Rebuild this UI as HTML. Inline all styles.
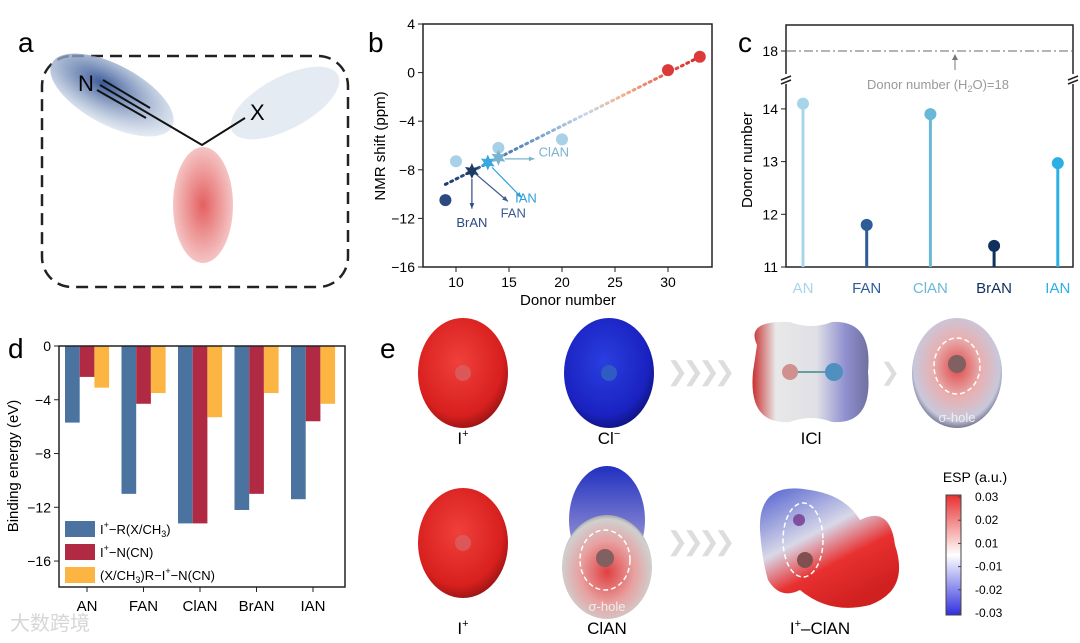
<!DOCTYPE html>
<html><head><meta charset="utf-8"><style>
body{margin:0;background:#fff;}
svg{display:block;font-family:"Liberation Sans",Arial,sans-serif;}
</style></head><body>
<svg id="fig" width="1080" height="643" viewBox="0 0 1080 643">
<defs>
<radialGradient id="gRed" cx="45%" cy="40%" r="65%"><stop offset="0" stop-color="#f0403c"/><stop offset="0.75" stop-color="#d8201e"/><stop offset="1" stop-color="#8a1212"/></radialGradient>
<radialGradient id="gBlue" cx="45%" cy="40%" r="65%"><stop offset="0" stop-color="#2a3ee0"/><stop offset="0.75" stop-color="#1a22c0"/><stop offset="1" stop-color="#0c1070"/></radialGradient>
<linearGradient id="gICl" x1="0" x2="1"><stop offset="0" stop-color="#c83030"/><stop offset="0.2" stop-color="#e8e8e8"/><stop offset="0.55" stop-color="#e0e0e6"/><stop offset="0.8" stop-color="#9090d0"/><stop offset="1" stop-color="#7070a0"/></linearGradient>
<radialGradient id="gSig" cx="50%" cy="45%" r="60%"><stop offset="0" stop-color="#e04848"/><stop offset="0.45" stop-color="#e8b0b0"/><stop offset="0.8" stop-color="#c8c8dc"/><stop offset="1" stop-color="#404060"/></radialGradient>
<linearGradient id="gCb" x1="0" y1="0" x2="0" y2="1"><stop offset="0" stop-color="#e83030"/><stop offset="0.5" stop-color="#ffffff"/><stop offset="1" stop-color="#3030e0"/></linearGradient>
<linearGradient id="gTop" x1="0" y1="0" x2="0" y2="1"><stop offset="0" stop-color="#2030c0"/><stop offset="0.6" stop-color="#8080d0"/><stop offset="1" stop-color="#e8e8e8"/></linearGradient>
<radialGradient id="gClan" cx="50%" cy="55%" r="60%"><stop offset="0" stop-color="#e04040"/><stop offset="0.5" stop-color="#e8a0a0"/><stop offset="0.85" stop-color="#d0d0d0"/><stop offset="1" stop-color="#707070"/></radialGradient>
<linearGradient id="gComp" x1="0" y1="0" x2="0.6" y2="1"><stop offset="0" stop-color="#5060d0"/><stop offset="0.45" stop-color="#d8d8e8"/><stop offset="0.7" stop-color="#e83030"/><stop offset="1" stop-color="#d02020"/></linearGradient>
<radialGradient id="gLobeB" cx="40%" cy="40%" r="70%"><stop offset="0" stop-color="#3a5a98"/><stop offset="1" stop-color="#e4ecf4" stop-opacity="0.6"/></radialGradient>
<radialGradient id="gLobeR" cx="50%" cy="50%" r="60%"><stop offset="0" stop-color="#e46060"/><stop offset="1" stop-color="#f8d8d8"/></radialGradient>
<linearGradient id="gFit" x1="0" x2="1"><stop offset="0" stop-color="#1d3c6e"/><stop offset="0.3" stop-color="#5a8cc0"/><stop offset="0.55" stop-color="#c8d8e8"/><stop offset="0.7" stop-color="#f4b090"/><stop offset="1" stop-color="#d62020"/></linearGradient>
</defs>

<!-- panel a -->
<g>
<text x="18" y="52" font-size="28">a</text>
<rect x="42" y="56" width="306" height="231" rx="30" fill="none" stroke="#222" stroke-width="2.5" stroke-dasharray="12,7"/>
<ellipse cx="112" cy="95" rx="68" ry="30" transform="rotate(28 112 95)" fill="url(#gLobeB)"/>
<ellipse cx="285" cy="103" rx="60" ry="26" transform="rotate(-28 285 103)" fill="#e4ebf3"/>
<ellipse cx="203" cy="205" rx="30" ry="58" fill="url(#gLobeR)"/>
<polyline points="100,85 202,145 245,118" fill="none" stroke="#111" stroke-width="2"/>
<line x1="103" y1="80" x2="150" y2="108" stroke="#111" stroke-width="2"/>
<line x1="97" y1="90" x2="146" y2="118" stroke="#111" stroke-width="2"/>
<text x="78" y="91" font-size="22">N</text>
<text x="250" y="120" font-size="22">X</text>
</g>

<!-- panel b -->
<g id="pb">
<text x="368" y="52" font-size="28">b</text>
<rect x="423" y="24" width="289" height="243" fill="none" stroke="#222" stroke-width="1.5"/>
<text transform="translate(385 146) rotate(-90)" text-anchor="middle" font-size="15">NMR shift (ppm)</text>
<text x="568" y="305" text-anchor="middle" font-size="15">Donor number</text>
</g>

<!-- panel c -->
<g id="pc">
<text x="738" y="52" font-size="28">c</text>
<rect x="786" y="25" width="287" height="242" fill="none" stroke="#222" stroke-width="1.5"/>
<rect x="780" y="74" width="12" height="10" fill="#fff"/><rect x="1067" y="74" width="12" height="10" fill="#fff"/>
<line x1="781" y1="80" x2="791" y2="76" stroke="#222" stroke-width="1.5"/><line x1="781" y1="84" x2="791" y2="80" stroke="#222" stroke-width="1.5"/>
<line x1="1068" y1="80" x2="1078" y2="76" stroke="#222" stroke-width="1.5"/><line x1="1068" y1="84" x2="1078" y2="80" stroke="#222" stroke-width="1.5"/>
<text transform="translate(752 160) rotate(-90)" text-anchor="middle" font-size="15">Donor number</text>
<line x1="955" y1="70" x2="955" y2="56" stroke="#777" stroke-width="1"/><path d="M952,60 L955,54 L958,60Z" fill="#777"/>
<text x="938" y="89" text-anchor="middle" font-size="13" fill="#999">Donor number (H<tspan font-size="9" dy="3">2</tspan><tspan dy="-3">O)=18</tspan></text>
</g>

<!-- panel d -->
<g id="pd">
<text x="8" y="358" font-size="28">d</text>
<text transform="translate(18 466) rotate(-90)" text-anchor="middle" font-size="15">Binding energy (eV)</text>
</g>

<!-- panel e -->
<g>
<text x="380" y="358" font-size="28">e</text>
<ellipse cx="463" cy="373" rx="45" ry="55" fill="url(#gRed)"/>
<circle cx="463" cy="373" r="8" fill="#d86060" opacity="0.8"/>
<ellipse cx="609" cy="373" rx="45" ry="55" fill="url(#gBlue)"/>
<circle cx="609" cy="373" r="8" fill="#3060c0" opacity="0.9"/>
<text x="698" y="380" text-anchor="middle" font-size="26" fill="#ddd" letter-spacing="-6">❯❯❯❯</text>
<path d="M757,345 Q745,320 790,322 Q811,330 832,322 Q873,320 868,372 Q873,425 832,422 Q811,414 790,422 Q748,425 753,372Z" fill="url(#gICl)"/>
<line x1="792" y1="372" x2="833" y2="372" stroke="#60a0a0" stroke-width="2"/>
<circle cx="790" cy="372" r="8" fill="#d09090"/><circle cx="834" cy="372" r="9" fill="#5090c0"/>
<text x="890" y="380" text-anchor="middle" font-size="24" fill="#ddd">❯</text>
<ellipse cx="957" cy="373" rx="45" ry="55" fill="url(#gSig)"/>
<ellipse cx="957" cy="366" rx="23" ry="28" fill="none" stroke="#fff" stroke-width="1.5" stroke-dasharray="5,3"/>
<circle cx="957" cy="364" r="9" fill="#806060"/>
<text x="957" y="422" text-anchor="middle" font-size="13" fill="#eee">σ-hole</text>
<text x="463" y="444" text-anchor="middle" font-size="17">I<tspan font-size="11" dy="-7">+</tspan></text>
<text x="609" y="444" text-anchor="middle" font-size="17">Cl<tspan font-size="11" dy="-7">−</tspan></text>
<text x="811" y="444" text-anchor="middle" font-size="17">ICl</text>

<ellipse cx="463" cy="543" rx="45" ry="55" fill="url(#gRed)"/>
<circle cx="463" cy="543" r="8" fill="#d86060" opacity="0.8"/>
<ellipse cx="607" cy="520" rx="38" ry="54" fill="url(#gTop)"/>
<ellipse cx="607" cy="567" rx="45" ry="52" fill="url(#gClan)"/>
<ellipse cx="605" cy="560" rx="25" ry="30" fill="none" stroke="#fff" stroke-width="1.5" stroke-dasharray="5,3"/>
<circle cx="605" cy="558" r="9" fill="#806060"/>
<text x="607" y="611" text-anchor="middle" font-size="13" fill="#eee">σ-hole</text>
<text x="698" y="550" text-anchor="middle" font-size="26" fill="#ddd" letter-spacing="-6">❯❯❯❯</text>
<path d="M760,530 Q758,480 810,490 Q845,495 860,520 Q890,505 895,545 Q910,590 870,605 Q830,615 800,590 Q780,600 768,580 Q762,560 760,530Z" fill="url(#gComp)"/>
<ellipse cx="803" cy="540" rx="20" ry="37" fill="none" stroke="#fff" stroke-width="1.5" stroke-dasharray="5,3"/>
<circle cx="799" cy="520" r="6" fill="#8050a0"/><circle cx="805" cy="560" r="8" fill="#805050"/>
<text x="463" y="634" text-anchor="middle" font-size="17">I<tspan font-size="11" dy="-7">+</tspan></text>
<text x="607" y="634" text-anchor="middle" font-size="17">ClAN</text>
<text x="820" y="634" text-anchor="middle" font-size="17">I<tspan font-size="11" dy="-7">+</tspan><tspan dy="7">–ClAN</tspan></text>
<text x="975" y="482" font-size="14" text-anchor="middle">ESP (a.u.)</text>
<rect x="946" y="495" width="15" height="120" fill="url(#gCb)" stroke="#444" stroke-width="1"/>
<g id="cbticks" font-size="12"></g>
</g>
<text x="10" y="630" font-size="20" fill="#ccc" opacity="0.8">大数跨境</text>
</svg>
<script>
const NS="http://www.w3.org/2000/svg";
function mk(p,tag,at){const e=document.createElementNS(NS,tag);for(const k in at)e.setAttribute(k,at[k]);p.appendChild(e);return e;}

// ---- panel b data ----
const bCircX=[9,10,14,20,30,33];
const bCircY=[-10.5,-7.3,-6.2,-5.5,0.2,1.3];
const bCircC=["#2c4a80","#a8d0e6","#a8d0e6","#a8d0e6","#dc3a3a","#dc3a3a"];
const bStarX=[11.5,13,14];
const bStarY=[-8.1,-7.4,-7.0];
const bStarC=["#1c3a66","#3aa8e0","#78b4d0"];
const bFitX=[9,33];
const bFitY=[-9.2,1.3];
const bXTicks=[10,15,20,25,30];
const bYTicks=[4,0,-4,-8,-12,-16];
const bx=v=>456+(v-10)*10.6, by=v=>24+(4-v)*12.15;
const pb=document.getElementById('pb');
bXTicks.forEach(t=>{const l=mk(pb,'line',{x1:bx(t),x2:bx(t),y1:267,y2:272,stroke:'#222'});

const tx=mk(pb,'text',{x:bx(t),y:287,'text-anchor':'middle','font-size':14});tx.textContent=t;
});
bYTicks.forEach(t=>{const l=mk(pb,'line',{x1:418,x2:423,y1:by(t),y2:by(t),stroke:'#222'});

const tx=mk(pb,'text',{x:415,y:by(t)+5,'text-anchor':'end','font-size':14});tx.textContent=(t<0?'−'+(-t):t);
});
const fit=mk(pb,'line',{x1:bx(bFitX[0]),y1:by(bFitY[0]),x2:bx(bFitX[1]),y2:by(bFitY[1]),stroke:'url(#gFit)','stroke-width':3,'stroke-dasharray':'2,4','stroke-linecap':'round'});

bCircX.forEach((x,i)=>{const c=mk(pb,'circle',{cx:bx(x),cy:by(bCircY[i]),r:6,fill:bCircC[i]});
});
function star(cx,cy,r){let p=[];for(let i=0;i<12;i++){const a=-Math.PI/2+i*Math.PI/6;const rr=i%2?r*0.5:r;p.push((cx+rr*Math.cos(a)).toFixed(1)+','+(cy+rr*Math.sin(a)).toFixed(1));}return p.join(' ');}
bStarX.forEach((x,i)=>{const s=mk(pb,'polygon',{points:star(bx(x),by(bStarY[i]),8),fill:bStarC[i]});
});
const ann=[[bx(11.5),by(-8.1)+8,bx(11.5),by(-11.2),"#2c4a80",bx(11.5),by(-12.3),"BrAN","middle"],
[bx(11.8),by(-8.3),bx(14.9),by(-10.6),"#3a5a90",bx(15.4),by(-11.5),"FAN","middle"],
[bx(13.4),by(-7.8),bx(16.2),by(-10.3),"#2aa0d8",bx(16.6),by(-10.3),"IAN","middle"],
[bx(14.6),by(-7.1),bx(17.4),by(-7.1),"#78b4d0",bx(17.8),by(-6.5),"ClAN","start"]];
ann.forEach(a=>{const l=mk(pb,'line',{x1:a[0],y1:a[1],x2:a[2],y2:a[3],stroke:a[4],'stroke-width':1.2});

const ang=Math.atan2(a[3]-a[1],a[2]-a[0]);const h=mk(pb,'polygon',{points:`${a[2]},${a[3]} ${a[2]-6*Math.cos(ang-0.4)},${a[3]-6*Math.sin(ang-0.4)} ${a[2]-6*Math.cos(ang+0.4)},${a[3]-6*Math.sin(ang+0.4)}`,fill:a[4]});

const t=mk(pb,'text',{x:a[5],y:a[6]+5,'text-anchor':a[8],'font-size':13,fill:a[4]});t.textContent=a[7];
});

// ---- panel c data ----
const cCats=["AN","FAN","ClAN","BrAN","IAN"];
const cVals=[14.1,11.8,13.9,11.4,12.97];
const cColors=["#a8d4ea","#2e5c96","#6ab8d8","#10305e","#2ab0e4"];
const cYTicks=[11,12,13,14];
const cRef=[18];
const cx=i=>803+i*63.7, cy=v=>267-(v-11)*52.7, cyTop=v=>51-(v-18)*15;
const pc=document.getElementById('pc');
cYTicks.forEach(t=>{const l=mk(pc,'line',{x1:781,x2:786,y1:cy(t),y2:cy(t),stroke:'#222'});

const tx=mk(pc,'text',{x:778,y:cy(t)+5,'text-anchor':'end','font-size':14});tx.textContent=t;
});
cRef.forEach(t=>{const l=mk(pc,'line',{x1:781,x2:786,y1:cyTop(t),y2:cyTop(t),stroke:'#222'});

const tx=mk(pc,'text',{x:778,y:cyTop(t)+5,'text-anchor':'end','font-size':14});tx.textContent=t;

const r=mk(pc,'line',{x1:787,x2:1072,y1:cyTop(t),y2:cyTop(t),stroke:'#888','stroke-width':1.3,'stroke-dasharray':'9,3,2,3'});
});
cCats.forEach((c,i)=>{const s=mk(pc,'line',{x1:cx(i),x2:cx(i),y1:267,y2:cy(cVals[i]),stroke:cColors[i],'stroke-width':3});

const d=mk(pc,'circle',{cx:cx(i),cy:cy(cVals[i]),r:6,fill:cColors[i]});

const t=mk(pc,'text',{x:cx(i),y:293,'text-anchor':'middle','font-size':15,fill:cColors[i]});t.textContent=c;
});

// ---- panel d data ----
const dCats=["AN","FAN","ClAN","BrAN","IAN"];
const dRX=[-5.7,-11.0,-13.2,-12.2,-11.4];
const dRN=[-2.3,-4.3,-13.2,-11.0,-5.6];
const dRXN=[-3.1,-3.5,-5.3,-3.5,-4.3];
const dYTicks=[0,-4,-8,-12,-16];
const dSeries=[dRX,dRN,dRXN];
const dColors=["#4a73a0","#b02a44","#fcb543"];
const dx=i=>87+i*56.5, dy=v=>346-v*13.44;
const pd=document.getElementById('pd');
dSeries.forEach((s,k)=>s.forEach((v,i)=>{const r=mk(pd,'rect',{x:dx(i)-22+k*14.7,y:346,width:14.7,height:dy(v)-346,fill:dColors[k]});
}));
const fr=mk(pd,'rect',{x:59,y:346,width:286,height:241,fill:'none',stroke:'#222','stroke-width':1.5});

dYTicks.forEach(t=>{const l=mk(pd,'line',{x1:54,x2:59,y1:dy(t),y2:dy(t),stroke:'#222'});

const tx=mk(pd,'text',{x:51,y:dy(t)+5,'text-anchor':'end','font-size':14});tx.textContent=(t<0?'−'+(-t):t);
});
dCats.forEach((c,i)=>{const l=mk(pd,'line',{x1:dx(i),x2:dx(i),y1:587,y2:592,stroke:'#222'});

const t=mk(pd,'text',{x:dx(i),y:611,'text-anchor':'middle','font-size':15});t.textContent=c;
});
const legTxt=['I<tspan font-size="9" dy="-6">+</tspan><tspan dy="6">−R(X/CH</tspan><tspan font-size="9" dy="3">3</tspan><tspan dy="-3">)</tspan>','I<tspan font-size="9" dy="-6">+</tspan><tspan dy="6">−N(CN)</tspan>','(X/CH<tspan font-size="9" dy="3">3</tspan><tspan dy="-3">)R−I</tspan><tspan font-size="9" dy="-6">+</tspan><tspan dy="6">−N(CN)</tspan>'];
legTxt.forEach((h,k)=>{const r=mk(pd,'rect',{x:65,y:521+k*23,width:30,height:16,fill:dColors[k]});

const t=mk(pd,'text',{x:100,y:534+k*23,'font-size':13});t.innerHTML=h;
});

// colorbar ticks
const cbLabels=["0.03","0.02","0.01","-0.01","-0.02","-0.03"];
const cb=document.getElementById('cbticks');
cbLabels.forEach((s,i)=>{const y=497+i*23.2;const l=mk(cb,'line',{x1:958,x2:961,y1:y,y2:y,stroke:'#444'});

const t=mk(cb,'text',{x:975,y:y+4});t.textContent=s;
});
</script>
</body></html>
